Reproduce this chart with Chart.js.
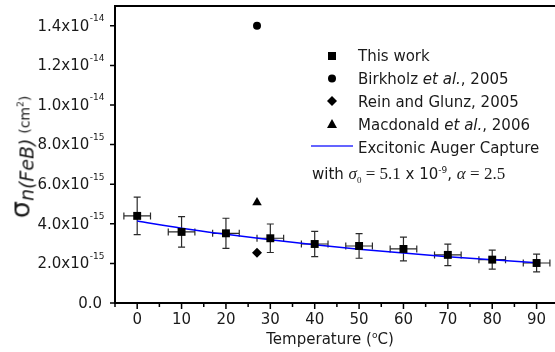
<!DOCTYPE html>
<html>
<head>
<meta charset="utf-8">
<script src="https://cdn.jsdelivr.net/npm/chart.js@4.4.0/dist/chart.umd.min.js"></script>
<style>
  html, body { margin: 0; padding: 0; background: #fff; overflow: hidden; }
  #wrap { position: relative; width: 555px; height: 352px; overflow: hidden; }
  canvas { position: absolute; left: 0; top: 0; }
  .lab { position: absolute; font-family: "DejaVu Sans"; font-size: 15px; color: #1a1a1a; white-space: nowrap; line-height: 1; }
  .serif { font-family: "Liberation Serif"; font-size: 17px; }
  #ytitle { left: 20px; top: 157px; transform: translate(-50%, -50%) rotate(-90deg); }
  #xtitle { left: 330px; top: 339px; transform: translate(-50%, -50%); }
</style>
</head>
<body>
<div id="wrap">
  <canvas id="c" width="565" height="352"></canvas>

  <div class="lab" id="ytitle"><span style="font-size:27px">σ</span><span style="font-style:italic;font-size:19px;position:relative;top:4px">n(FeB)</span> <span style="font-size:14px">(cm<sup style="font-size:9px">2</sup>)</span></div>
  <div class="lab" id="xtitle">Temperature (<sup style="font-size:9px">o</sup>C)</div>

  <div class="lab" style="left:358px;top:49px">This work</div>
  <div class="lab" style="left:358px;top:72px">Birkholz <i>et al.</i>, 2005</div>
  <div class="lab" style="left:358px;top:95px">Rein and Glunz, 2005</div>
  <div class="lab" style="left:358px;top:118px">Macdonald <i>et al.</i>, 2006</div>
  <div class="lab" style="left:358px;top:141px">Excitonic Auger Capture</div>
  <div class="lab" style="left:312px;top:165px">with <span class="serif"><i>σ</i><sub style="font-size:9px">0</sub> = 5.1</span> x 10<sup style="font-size:9px">-9</sup>, <span class="serif"><i>α</i> = 2.5</span></div>
</div>

<script>
// temperature (°C) and capture cross section (cm²)
const temps = [0, 10, 20, 30, 40, 50, 60, 70, 80, 90];
const sigmaThisWork = [4.40e-15, 3.59e-15, 3.52e-15, 3.27e-15, 2.98e-15, 2.88e-15, 2.73e-15, 2.43e-15, 2.19e-15, 2.02e-15];
const sigmaErr = [0.95e-15, 0.77e-15, 0.76e-15, 0.72e-15, 0.64e-15, 0.62e-15, 0.60e-15, 0.54e-15, 0.48e-15, 0.45e-15];
const tempErr = [3, 3, 3, 3, 3, 3, 3, 3, 3, 3];

const birkholz = [{ x: 27, y: 1.40e-14 }];
const reinGlunz = [{ x: 27, y: 2.54e-15 }];
const macdonald = [{ x: 27, y: 5.07e-15 }];

// excitonic Auger capture curve
const fitTemps = [0, 10, 20, 30, 40, 50, 60, 70, 80, 90];
const fitSigma = [4.14e-15, 3.78e-15, 3.47e-15, 3.19e-15, 2.94e-15, 2.72e-15, 2.52e-15, 2.34e-15, 2.18e-15, 2.03e-15];

const xTicks = [0, 10, 20, 30, 40, 50, 60, 70, 80, 90];
const xMinorTicks = [-5, 5, 15, 25, 35, 45, 55, 65, 75, 85, 95];
const yTicks = [0, 2e-15, 4e-15, 6e-15, 8e-15, 1e-14, 1.2e-14, 1.4e-14];
const yTickMantissa = ['0.0', '2.0x10', '4.0x10', '6.0x10', '8.0x10', '1.0x10', '1.2x10', '1.4x10'];
const yTickExp = ['', '-15', '-15', '-15', '-15', '-14', '-14', '-14'];

const INK = '#1a1a1a';

function shape(ctx, kind, x, y) {
    ctx.beginPath();
    if (kind === 'rect') ctx.rect(x - 4, y - 4, 8, 8);
    else if (kind === 'circle') ctx.arc(x, y, 4, 0, Math.PI * 2);
    else if (kind === 'diamond') { ctx.moveTo(x, y - 5); ctx.lineTo(x + 5, y); ctx.lineTo(x, y + 5); ctx.lineTo(x - 5, y); ctx.closePath(); }
    else if (kind === 'triangle') { ctx.moveTo(x, y - 5); ctx.lineTo(x + 5, y + 4); ctx.lineTo(x - 5, y + 4); ctx.closePath(); }
    ctx.fill();
}

const extras = {
    id: 'extras',
    beforeDatasetsDraw(chart) {
        const { ctx, scales: { x, y } } = chart;
        ctx.save();
        ctx.strokeStyle = '#2a2a2a';
        ctx.lineWidth = 1.2;
        temps.forEach((t, i) => {
            const px = x.getPixelForValue(t), py = y.getPixelForValue(sigmaThisWork[i]);
            const yTop = y.getPixelForValue(sigmaThisWork[i] + sigmaErr[i]);
            const yBot = y.getPixelForValue(sigmaThisWork[i] - sigmaErr[i]);
            const xL = x.getPixelForValue(t - tempErr[i]);
            const xR = x.getPixelForValue(t + tempErr[i]);
            ctx.beginPath();
            ctx.moveTo(px, yTop); ctx.lineTo(px, yBot);
            ctx.moveTo(px - 3.5, yTop); ctx.lineTo(px + 3.5, yTop);
            ctx.moveTo(px - 3.5, yBot); ctx.lineTo(px + 3.5, yBot);
            ctx.moveTo(xL, py); ctx.lineTo(xR, py);
            ctx.moveTo(xL, py - 3.5); ctx.lineTo(xL, py + 3.5);
            ctx.moveTo(xR, py - 3.5); ctx.lineTo(xR, py + 3.5);
            ctx.stroke();
        });
        ctx.restore();
    },
    afterDraw(chart) {
        const { ctx, chartArea: a, scales: { x, y } } = chart;
        ctx.save();
        // axes: left, bottom and top lines (plot continues past the right edge)
        ctx.strokeStyle = '#000';
        ctx.lineWidth = 2;
        ctx.beginPath();
        ctx.moveTo(a.left - 1, a.top); ctx.lineTo(a.right, a.top);
        ctx.moveTo(a.left, a.top); ctx.lineTo(a.left, a.bottom + 1);
        ctx.moveTo(a.left - 1, a.bottom); ctx.lineTo(a.right, a.bottom);
        ctx.stroke();
        // tick marks
        ctx.lineWidth = 1.5;
        ctx.beginPath();
        xTicks.forEach(v => {
            const px = x.getPixelForValue(v);
            ctx.moveTo(px, a.bottom); ctx.lineTo(px, a.bottom + 6);
        });
        xMinorTicks.forEach(v => {
            const px = x.getPixelForValue(v);
            ctx.moveTo(px, a.bottom); ctx.lineTo(px, a.bottom + 4);
        });
        yTicks.forEach(v => {
            const py = y.getPixelForValue(v);
            ctx.moveTo(a.left, py); ctx.lineTo(a.left - 5, py);
        });
        ctx.stroke();
        // y tick labels with exponents
        ctx.fillStyle = INK;
        ctx.textBaseline = 'middle';
        yTicks.forEach((v, i) => {
            const py = y.getPixelForValue(v);
            let right = 104.5;
            ctx.font = '9px "DejaVu Sans"';
            if (yTickExp[i]) {
                ctx.textAlign = 'right';
                ctx.fillText(yTickExp[i], right, py - 7);
                right -= ctx.measureText(yTickExp[i]).width + 0.5;
            } else {
                right = 102;
            }
            ctx.font = '15px "DejaVu Sans"';
            ctx.textAlign = 'right';
            ctx.fillText(yTickMantissa[i], right, py + 1);
        });
        // legend symbols
        ctx.fillStyle = '#000';
        shape(ctx, 'rect', 332, 56);
        shape(ctx, 'circle', 332, 78.5);
        shape(ctx, 'diamond', 332, 101);
        shape(ctx, 'triangle', 332, 124);
        ctx.strokeStyle = '#3030ff';
        ctx.lineWidth = 1.5;
        ctx.beginPath();
        ctx.moveTo(311, 146); ctx.lineTo(353, 146);
        ctx.stroke();
        ctx.restore();
    }
};

new Chart(document.getElementById('c'), {
    type: 'scatter',
    data: {
        datasets: [
            {
                label: 'This work',
                data: temps.map((t, i) => ({ x: t, y: sigmaThisWork[i] })),
                pointStyle: 'rect', pointRadius: 5.6, pointHoverRadius: 5.6,
                backgroundColor: '#000', borderWidth: 0
            },
            {
                label: 'Birkholz et al., 2005',
                data: birkholz,
                pointStyle: 'circle', pointRadius: 4, backgroundColor: '#000', borderWidth: 0
            },
            {
                label: 'Rein and Glunz, 2005',
                data: reinGlunz,
                pointStyle: 'rectRot', pointRadius: 5, backgroundColor: '#000', borderWidth: 0
            },
            {
                label: 'Macdonald et al., 2006',
                data: macdonald,
                pointStyle: 'triangle', pointRadius: 5.5, backgroundColor: '#000', borderWidth: 0
            },
            {
                label: 'Excitonic Auger Capture',
                data: fitTemps.map((t, i) => ({ x: t, y: fitSigma[i] })),
                showLine: true, pointRadius: 0, borderColor: '#0000ff', borderWidth: 1.5,
                cubicInterpolationMode: 'monotone'
            }
        ]
    },
    options: {
        responsive: false,
        animation: false,
        devicePixelRatio: 1,
        layout: { autoPadding: false, padding: { top: 6, right: 0, left: 0, bottom: 0 } },
        plugins: { legend: { display: false }, tooltip: { enabled: false } },
        scales: {
            x: {
                type: 'linear', min: -5, max: 96.4,
                afterBuildTicks: s => { s.ticks = xTicks.map(v => ({ value: v })); },
                afterFit: s => { s.height = 49; s.paddingLeft = 0; s.paddingRight = 0; },
                grid: { display: false, drawTicks: true, tickLength: 6 },
                border: { display: false },
                ticks: { autoSkip: false, maxRotation: 0, padding: 2, color: INK, font: { family: 'DejaVu Sans', size: 15 } }
            },
            y: {
                type: 'linear', min: 0, max: 1.5e-14,
                afterBuildTicks: s => { s.ticks = yTicks.map(v => ({ value: v })); },
                afterFit: s => { s.width = 115; s.paddingTop = 0; s.paddingBottom = 0; },
                grid: { display: false },
                border: { display: false },
                ticks: { callback: () => '', padding: 0 }
            }
        }
    },
    plugins: [extras]
});
</script>
</body>
</html>
